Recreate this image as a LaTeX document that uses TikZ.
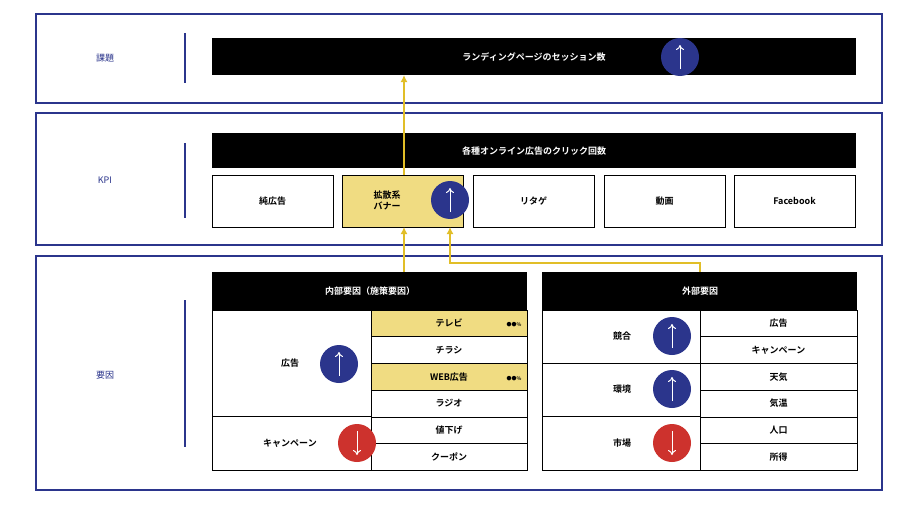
\documentclass[tikz,border=0pt]{standalone}
\usepackage{fontspec}
\setmainfont{Noto Sans CJK JP}[BoldFont={* Bold}]
\definecolor{navy}{RGB}{43,53,140}
\definecolor{kred}{RGB}{205,50,45}
\definecolor{kyel}{RGB}{240,220,130}
\definecolor{ayel}{RGB}{225,190,40}
\usetikzlibrary{arrows.meta}
\tikzset{
  panel/.style={draw=navy, line width=1.6pt},
  cell/.style={draw=black, fill=white, font=\bfseries\small, line width=0.6pt},
  hcell/.style={cell, fill=kyel},
  dnc/.style={circle, fill=navy, minimum size=38pt, inner sep=0pt},
  upc/.style={circle, fill=kred, minimum size=38pt, inner sep=0pt},
  flow/.style={ayel, line width=1.8pt, -{Latex[length=7pt,width=7pt]}}
}
\newcommand{\arrdown}[2]{\node[dnc] (#1) at (#2) {};
  \draw[white, line width=1pt, -{To[length=5pt,width=8pt]}] ([yshift=-12pt]#1.center) -- ([yshift=12pt]#1.center);}
\newcommand{\arrup}[2]{\node[upc] (#1) at (#2) {};
  \draw[white, line width=1pt, -{To[length=5pt,width=8pt]}] ([yshift=12pt]#1.center) -- ([yshift=-12pt]#1.center);}
\begin{document}
\begin{tikzpicture}[x=1pt,y=-1pt]
  \useasboundingbox[fill=white] (0,0) rectangle (900,506);
  % panels
  \draw[panel] (36,14) rectangle (882,103);
  \draw[panel] (36,113) rectangle (882,245);
  \draw[panel] (36,256) rectangle (882,490);
  \node[navy, font=\small] (lkadai) at (105,58) {課題};
  \node[navy, font=\small] (lkpi) at (105,180) {KPI};
  \node[navy, font=\small] (lyoin) at (105,375) {要因};
  \draw[navy, line width=1.6pt] (185,33) -- (185,83);
  \draw[navy, line width=1.6pt] (185,143) -- (185,218);
  \draw[navy, line width=1.6pt] (185,300) -- (185,447);

  % kadai
  \fill[black] (212,38) rectangle (856,75);
  \node[text=white, font=\bfseries\small] (sess) at (534,57) {ランディングページのセッション数};
  \arrdown{c0}{680,57}

  % kpi
  \fill[black] (212,133) rectangle (856,168);
  \node[text=white, font=\bfseries\small] (click) at (534,151) {各種オンライン広告のクリック回数};
  \foreach \x/\t/\s [count=\i] in {212/純広告/cell, 342/{}/hcell, 473/リタゲ/cell, 604/動画/cell, 734/Facebook/cell}
    \draw[\s] (\x,175) rectangle ++(121,52) node[midway, font=\bfseries\small] (k\i) {\t};
  \node[font=\bfseries\small, align=center, inner sep=0pt] (kakusan) at (387,200) {拡散系\\バナー};
  \arrdown{c1}{450,200}

  % inner table
  \fill[black] (212,272) rectangle (527,310);
  \node[text=white, font=\bfseries\small] (naibu) at (370,291) {内部要因（施策要因）};
  \draw[cell] (212,310) rectangle (371,416);
  \draw[cell] (212,416) rectangle (371,470);
  \foreach \t/\s [count=\i] in {テレビ/hcell, チラシ/cell, WEB広告/hcell, ラジオ/cell, 値下げ/cell, クーポン/cell}
    \draw[\s] (371,283.3+26.7*\i) rectangle (527,310+26.7*\i) node[midway, font=\bfseries\small] (n\i) {\t};
  \node[font=\bfseries\tiny, anchor=east] (p1) at (525,325) {●●\%};
  \node[font=\bfseries\tiny, anchor=east] (p3) at (525,379) {●●\%};
  \node[font=\bfseries\small] (koukoku) at (290,363) {広告};
  \arrdown{c2}{339,364}
  \node[font=\bfseries\small] (camp) at (290,443) {キャンペーン};
  \arrup{c3}{357,443}

  % outer table
  \fill[black] (542,272) rectangle (857,310);
  \node[text=white, font=\bfseries\small] (gaibu) at (700,291) {外部要因};
  \draw[cell] (542,310) rectangle (700,363);
  \draw[cell] (542,363) rectangle (700,416);
  \draw[cell] (542,416) rectangle (700,470);
  \foreach \t [count=\i] in {広告, キャンペーン, 天気, 気温, 人口, 所得}
    \draw[cell] (700,283.3+26.7*\i) rectangle (857,310+26.7*\i) node[midway, font=\bfseries\small] (g\i) {\t};
  \node[font=\bfseries\small] (kyogo) at (622,336) {競合};
  \arrdown{c4}{672,336}
  \node[font=\bfseries\small] (kankyo) at (622,389) {環境};
  \arrdown{c5}{672,389}
  \node[font=\bfseries\small] (shijo) at (622,443) {市場};
  \arrup{c6}{672,443}

  % flows
  \coordinate (t2) at (404,272);
  \coordinate (t3) at (700,272);
  \draw[flow] (404,175) -- (404,75);
  \draw[flow] (t2) -- (404,227);
  \draw[flow] (t3) |- (450,263) -- (450,227);
\end{tikzpicture}
\end{document}
